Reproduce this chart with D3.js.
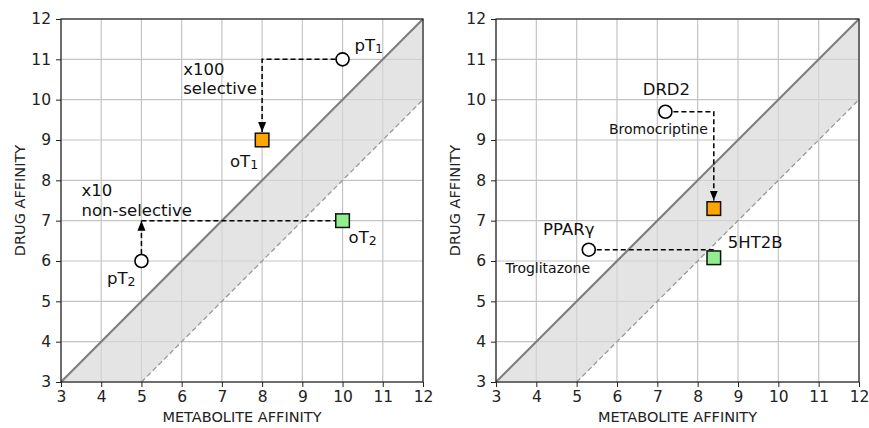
<!DOCTYPE html>
<html>
<head>
<meta charset="utf-8">
<script src="https://cdn.jsdelivr.net/npm/d3@7"></script>
<style>
  html, body { margin: 0; padding: 0; background: #ffffff; }
  svg { display: block; font-family: "DejaVu Sans", sans-serif; }
</style>
</head>
<body>
<svg id="chart" width="869" height="428"></svg>
<script>
// ---------- data ----------
const tickValues = [3, 4, 5, 6, 7, 8, 9, 10, 11, 12];
const axisMin = 3, axisMax = 12;
const bandOffset = 2;           // dashed line y = x - 2
const xTitle = "METABOLITE AFFINITY";
const yTitle = "DRUG AFFINITY";

// left panel
const leftPrimaryLabels = ["pT|1", "pT|2"];
const leftPrimaryX = [10, 5];
const leftPrimaryY = [11, 6];
const leftOffLabels = ["oT|1", "oT|2"];
const leftOffX = [8, 10];
const leftOffY = [9, 7];
const leftNotes = [["x100", "selective"], ["x10", "non-selective"]];
const leftNoteX = [6.04, 3.51];
const leftNoteY = [10.62, 7.6];

// right panel
const rightPrimaryLabels = ["DRD2", "PPARγ"];
const rightDrugLabels = ["Bromocriptine", "Troglitazone"];
const rightPrimaryX = [7.2, 5.3];
const rightPrimaryY = [9.7, 6.28];
const rightOffLabels = ["", "5HT2B"];
const rightOffX = [8.4, 8.4];
const rightOffY = [7.3, 6.08];

// ---------- drawing ----------
const svg = d3.select("#chart");
const defs = svg.append("defs");
defs.append("marker")
  .attr("id", "arrow").attr("viewBox", "0 0 10 10")
  .attr("refX", 10).attr("refY", 5)
  .attr("markerWidth", 10).attr("markerHeight", 10)
  .attr("markerUnits", "userSpaceOnUse")
  .attr("orient", "auto")
  .append("path").attr("d", "M0,1 L10,5 L0,9 Z").attr("fill", "#000");

function makePanel(left, right, top, bottom) {
  const x = d3.scaleLinear().domain([axisMin, axisMax]).range([left, right]);
  const y = d3.scaleLinear().domain([axisMin, axisMax]).range([bottom, top]);
  const g = svg.append("g");

  // grid
  g.append("g").selectAll("line.gx").data(tickValues).join("line")
    .attr("x1", d => x(d)).attr("x2", d => x(d)).attr("y1", top).attr("y2", bottom)
    .attr("stroke", "#c4c4c4").attr("stroke-width", 1.2);
  g.append("g").selectAll("line.gy").data(tickValues).join("line")
    .attr("y1", d => y(d)).attr("y2", d => y(d)).attr("x1", left).attr("x2", right)
    .attr("stroke", "#c4c4c4").attr("stroke-width", 1.2);

  // band between y=x and y=x-2
  const band = [[axisMin, axisMin], [axisMax, axisMax], [axisMax, axisMax - bandOffset], [axisMin + bandOffset, axisMin]];
  g.append("path")
    .attr("d", d3.line().x(d => x(d[0])).y(d => y(d[1]))(band) + "Z")
    .attr("fill", "#d9d9d9").attr("fill-opacity", 0.7);
  g.append("line")
    .attr("x1", x(axisMin)).attr("y1", y(axisMin)).attr("x2", x(axisMax)).attr("y2", y(axisMax))
    .attr("stroke", "#7f7f7f").attr("stroke-width", 2.2);
  g.append("line")
    .attr("x1", x(axisMin + bandOffset)).attr("y1", y(axisMin)).attr("x2", x(axisMax)).attr("y2", y(axisMax - bandOffset))
    .attr("stroke", "#999").attr("stroke-width", 1.3).attr("stroke-dasharray", "5,3");

  // axes
  const xAxis = g.append("g").attr("transform", `translate(0,${bottom})`)
    .call(d3.axisBottom(x).tickValues(tickValues).tickSize(5).tickPadding(4).tickFormat(d3.format("d")));
  const yAxis = g.append("g").attr("transform", `translate(${left},0)`)
    .call(d3.axisLeft(y).tickValues(tickValues).tickSize(5).tickPadding(5).tickFormat(d3.format("d")));
  [xAxis, yAxis].forEach(a => {
    a.select(".domain").remove();
    a.selectAll("line").attr("stroke", "#222").attr("stroke-width", 1);
    a.selectAll("text").attr("font-size", 15.5).attr("fill", "#222")
      .attr("font-family", "DejaVu Sans, sans-serif");
  });
  // frame
  g.append("rect").attr("x", left).attr("y", top).attr("width", right - left).attr("height", bottom - top)
    .attr("fill", "none").attr("stroke", "#222").attr("stroke-width", 1.2);

  // titles
  g.append("text").attr("x", (left + right) / 2).attr("y", 422)
    .attr("text-anchor", "middle").attr("font-size", 14.5).attr("fill", "#222").text(xTitle);
  g.append("text").attr("transform", `translate(${left - 36},${(top + bottom) / 2}) rotate(-90)`)
    .attr("text-anchor", "middle").attr("font-size", 14.5).attr("fill", "#222").text(yTitle);

  return { x, y, g };
}

function dashed(g, pts, arrow) {
  const p = g.append("path")
    .attr("d", d3.line()(pts))
    .attr("fill", "none").attr("stroke", "#000").attr("stroke-width", 1.5)
    .attr("stroke-dasharray", "5,3");
  if (arrow) p.attr("marker-end", "url(#arrow)");
}

function circleMark(g, cx, cy) {
  g.append("circle").attr("cx", cx).attr("cy", cy).attr("r", 6.5)
    .attr("fill", "#fff").attr("stroke", "#000").attr("stroke-width", 1.6);
}
function squareMark(g, cx, cy, color) {
  g.append("rect").attr("x", cx - 6.8).attr("y", cy - 6.8).attr("width", 13.6).attr("height", 13.6)
    .attr("fill", color).attr("stroke", "#111").attr("stroke-width", 1.5);
}
function subLabel(g, txt, px, py, anchor) {
  const parts = txt.split("|");
  const t = g.append("text").attr("x", px).attr("y", py).attr("text-anchor", anchor)
    .attr("font-size", 16.5).attr("fill", "#111");
  t.append("tspan").text(parts[0]);
  t.append("tspan").attr("font-size", 12.5).attr("dy", 2).text(parts[1]);
}

// ---------- left ----------
const L = makePanel(61, 423, 19, 382);
{
  const { x, y, g } = L;
  // pT1 -> oT1 (down arrow)
  dashed(g, [[x(leftPrimaryX[0]) - 7, y(leftPrimaryY[0])], [x(leftOffX[0]), y(leftPrimaryY[0])], [x(leftOffX[0]), y(leftOffY[0]) - 8]], true);
  // pT2 -> up to oT2 level (arrow), then across to oT2
  dashed(g, [[x(leftPrimaryX[1]), y(leftPrimaryY[1]) - 7], [x(leftPrimaryX[1]), y(leftOffY[1])]], true);
  dashed(g, [[x(leftPrimaryX[1]), y(leftOffY[1])], [x(leftOffX[1]), y(leftOffY[1])]], false);

  leftPrimaryX.forEach((v, i) => circleMark(g, x(v), y(leftPrimaryY[i])));
  squareMark(g, x(leftOffX[0]), y(leftOffY[0]), "#ffa500");
  squareMark(g, x(leftOffX[1]), y(leftOffY[1]), "#90ee90");

  subLabel(g, leftPrimaryLabels[0], x(leftPrimaryX[0]) + 12, y(leftPrimaryY[0]) - 8, "start");
  subLabel(g, leftPrimaryLabels[1], x(leftPrimaryX[1]) - 6, y(leftPrimaryY[1]) + 23, "end");
  subLabel(g, leftOffLabels[0], x(leftOffX[0]) - 4, y(leftOffY[0]) + 27, "end");
  subLabel(g, leftOffLabels[1], x(leftOffX[1]) + 6, y(leftOffY[1]) + 22, "start");

  leftNotes.forEach((lines, i) => {
    lines.forEach((s, j) => {
      g.append("text").attr("x", x(leftNoteX[i])).attr("y", y(leftNoteY[i]) + j * 19.5)
        .attr("font-size", 16.5).attr("fill", "#111").text(s);
    });
  });
}

// ---------- right ----------
const R = makePanel(496, 859, 19, 382);
{
  const { x, y, g } = R;
  dashed(g, [[x(rightPrimaryX[0]) + 8, y(rightPrimaryY[0])], [x(rightOffX[0]), y(rightPrimaryY[0])], [x(rightOffX[0]), y(rightOffY[0]) - 8]], true);
  dashed(g, [[x(rightPrimaryX[1]) + 8, y(rightPrimaryY[1])], [x(rightOffX[1]), y(rightPrimaryY[1])]], false);

  rightPrimaryX.forEach((v, i) => circleMark(g, x(v), y(rightPrimaryY[i])));
  squareMark(g, x(rightOffX[0]), y(rightOffY[0]), "#ffa500");
  squareMark(g, x(rightOffX[1]), y(rightOffY[1]), "#90ee90");

  g.append("text").attr("x", x(rightPrimaryX[0]) + 1).attr("y", y(rightPrimaryY[0]) - 17)
    .attr("text-anchor", "middle").attr("font-size", 16.5).attr("fill", "#111").text(rightPrimaryLabels[0]);
  g.append("text").attr("x", x(rightPrimaryX[0]) - 7).attr("y", y(rightPrimaryY[0]) + 22)
    .attr("text-anchor", "middle").attr("font-size", 14).attr("fill", "#111").text(rightDrugLabels[0]);
  g.append("text").attr("x", x(rightPrimaryX[1]) - 20).attr("y", y(rightPrimaryY[1]) - 15)
    .attr("text-anchor", "middle").attr("font-size", 16.5).attr("fill", "#111").text(rightPrimaryLabels[1]);
  g.append("text").attr("x", x(rightPrimaryX[1]) - 41).attr("y", y(rightPrimaryY[1]) + 23)
    .attr("text-anchor", "middle").attr("font-size", 14).attr("fill", "#111").text(rightDrugLabels[1]);
  g.append("text").attr("x", x(rightOffX[1]) + 14).attr("y", y(rightOffY[1]) - 10)
    .attr("text-anchor", "start").attr("font-size", 16.5).attr("fill", "#111").text(rightOffLabels[1]);
}
</script>
</body>
</html>
